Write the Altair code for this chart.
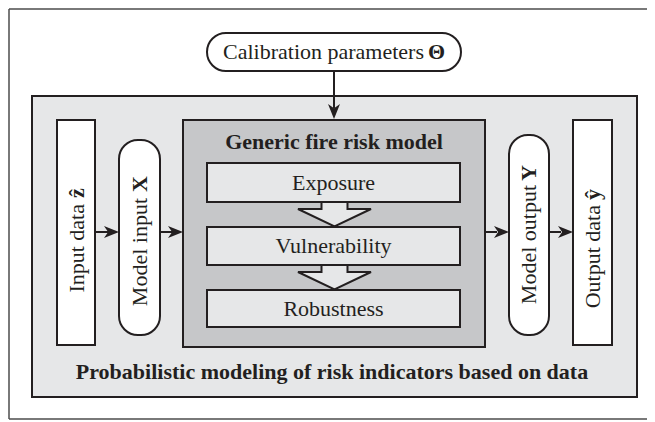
import altair as alt
import pandas as pd

# ---- canvas (picture-pixel coordinates; page margin is 8px) ----
W, H = 639, 414
X0, Y0 = 8, 8

INK = "#231f20"
FRAME = "#4d4d4d"
PANEL = "#e6e7e8"
MODEL = "#c6c7c9"
WHITE = "#ffffff"
FONT = "Liberation Serif"
FS = 22

# ---- outer frame (open on the right, as in the cropped original) ----
frame_x1 = [9, 9, 9]
frame_x2 = [700, 700, 9]
frame_y1 = [9, 419, 9]
frame_y2 = [9, 419, 419]

# ---- background boxes ----
back_names = ["panel", "model"]
back_x1 = [32, 183]
back_x2 = [637, 485]
back_y1 = [96, 120]
back_y2 = [397, 347]
back_fill = [PANEL, MODEL]

# ---- front boxes ----
box_names = ["Exposure", "Vulnerability", "Robustness", "input", "output"]
box_x1 = [207, 207, 207, 57, 573]
box_x2 = [460, 460, 460, 95, 612]
box_y1 = [163, 227, 290, 120, 120]
box_y2 = [202, 265, 327, 345, 345]
box_fill = [PANEL, PANEL, PANEL, WHITE, WHITE]

# ---- pills ----
pill_names = ["calibration", "model input", "model output"]
pill_x1 = [207, 119, 509]
pill_x2 = [461, 160, 549]
pill_y1 = [33, 140, 135]
pill_y2 = [71, 335, 335]

# ---- connector arrows ----
shaft_x1 = [334, 95, 160, 485, 549]
shaft_x2 = [334, 108, 172, 497, 561]
shaft_y1 = [71, 232, 232, 232, 232]
shaft_y2 = [108, 232, 232, 232, 232]
tip_x = [334, 119, 183, 509, 573]
tip_y = [119, 232, 232, 232, 232]
tip_dir = ["down", "right", "right", "right", "right"]
HEAD = 15

# ---- hollow block arrows ----
block_x = [334.5, 334.5]
block_y = [214, 277]
BLOCK = 73

# ---- texts ----
center_reg_text = ["Exposure", "Vulnerability", "Robustness"]
center_reg_x = [333.5, 333.5, 333.5]
center_reg_y = [183, 246, 309]

center_bold_text = ["Generic fire risk model",
                    "Probabilistic modeling of risk indicators based on data"]
center_bold_x = [334, 332]
center_bold_y = [142, 372]

calib_text, calib_x, calib_y = ["Calibration parameters"], [424], [52]
theta_text, theta_x, theta_y = ["\u0398"], [428], [52]

vert_reg_text = ["Input data", "Model input", "Model output", "Output data"]
vert_bold_text = ["\u1e91", "X", "Y", "\u0177"]
vert_x = [76.5, 139.5, 529, 592.5]
vert_reg_end = [204, 198, 185, 205]
vert_bold_start = [198, 192, 181, 200]

# ---------------------------------------------------------------
xs = alt.Scale(domain=[X0, X0 + W])
ys = alt.Scale(domain=[Y0 + H, Y0])


def X(f):
    return alt.X(f, type="quantitative", scale=xs, axis=None)


def Y(f):
    return alt.Y(f, type="quantitative", scale=ys, axis=None)


frame = alt.Chart(pd.DataFrame({"x1": frame_x1, "x2": frame_x2,
                                "y1": frame_y1, "y2": frame_y2})).mark_rule(
    color=FRAME, strokeWidth=1.5, clip=True
).encode(x=X("x1"), x2="x2", y=Y("y1"), y2="y2")

back = alt.Chart(pd.DataFrame({"name": back_names, "x1": back_x1, "x2": back_x2,
                               "y1": back_y1, "y2": back_y2, "fill": back_fill})).mark_rect(
    stroke=INK, strokeWidth=2
).encode(x=X("x1"), x2="x2", y=Y("y1"), y2="y2",
         fill=alt.Fill("fill:N", scale=None))

# hollow block arrow, defined in the [-1,1] symbol space (scaled by BLOCK/2)
r = BLOCK / 2.0
top, neck, tip, shaft = -12 / r, -5 / r, 12.5 / r, 13 / r
block_path = (f"M{-shaft:.3f},{top:.3f} L{shaft:.3f},{top:.3f} L{shaft:.3f},{neck:.3f} "
              f"L1,{neck:.3f} L0,{tip:.3f} L-1,{neck:.3f} L{-shaft:.3f},{neck:.3f} Z")
blocks = alt.Chart(pd.DataFrame({"x": block_x, "y": block_y})).mark_point(
    shape=block_path, size=BLOCK ** 2, filled=True, fill=PANEL, stroke=INK,
    strokeWidth=2, opacity=1
).encode(x=X("x"), y=Y("y"))

boxes = alt.Chart(pd.DataFrame({"name": box_names, "x1": box_x1, "x2": box_x2,
                                "y1": box_y1, "y2": box_y2, "fill": box_fill})).mark_rect(
    stroke=INK, strokeWidth=2
).encode(x=X("x1"), x2="x2", y=Y("y1"), y2="y2",
         fill=alt.Fill("fill:N", scale=None))

pills = alt.Chart(pd.DataFrame({"name": pill_names, "x1": pill_x1, "x2": pill_x2,
                                "y1": pill_y1, "y2": pill_y2})).mark_rect(
    fill=WHITE, stroke=INK, strokeWidth=2, cornerRadius=19
).encode(x=X("x1"), x2="x2", y=Y("y1"), y2="y2")

shafts = alt.Chart(pd.DataFrame({"x1": shaft_x1, "x2": shaft_x2,
                                 "y1": shaft_y1, "y2": shaft_y2})).mark_rule(
    color=INK, strokeWidth=2
).encode(x=X("x1"), x2="x2", y=Y("y1"), y2="y2")

right_head = "M1,0 L-1,-0.8 L-0.45,0 L-1,0.8 Z"
down_head = "M0,1 L-0.8,-1 L0,-0.45 L0.8,-1 Z"
hx, hy = [], []
for tx, ty, d in zip(tip_x, tip_y, tip_dir):
    if d == "down":
        hx.append(tx); hy.append(ty - HEAD / 2)
    else:
        hx.append(tx - HEAD / 2); hy.append(ty)
heads_df = pd.DataFrame({"x": hx, "y": hy, "dir": tip_dir})
heads_r = alt.Chart(heads_df[heads_df.dir == "right"]).mark_point(
    shape=right_head, size=HEAD ** 2, filled=True, fill=INK, strokeWidth=0, opacity=1
).encode(x=X("x"), y=Y("y"))
heads_d = alt.Chart(heads_df[heads_df.dir == "down"]).mark_point(
    shape=down_head, size=HEAD ** 2, filled=True, fill=INK, strokeWidth=0, opacity=1
).encode(x=X("x"), y=Y("y"))

tk = dict(font=FONT, fontSize=FS, color=INK, baseline="middle")

t_center_reg = alt.Chart(pd.DataFrame({"x": center_reg_x, "y": center_reg_y,
                                       "t": center_reg_text})).mark_text(
    align="center", **tk).encode(x=X("x"), y=Y("y"), text="t:N")
t_center_bold = alt.Chart(pd.DataFrame({"x": center_bold_x, "y": center_bold_y,
                                        "t": center_bold_text})).mark_text(
    align="center", fontWeight="bold", **tk).encode(x=X("x"), y=Y("y"), text="t:N")
t_calib = alt.Chart(pd.DataFrame({"x": calib_x, "y": calib_y, "t": calib_text})).mark_text(
    align="right", **tk).encode(x=X("x"), y=Y("y"), text="t:N")
t_theta = alt.Chart(pd.DataFrame({"x": theta_x, "y": theta_y, "t": theta_text})).mark_text(
    align="left", fontWeight="bold", **tk).encode(x=X("x"), y=Y("y"), text="t:N")
t_vert_reg = alt.Chart(pd.DataFrame({"x": vert_x, "y": vert_reg_end,
                                     "t": vert_reg_text})).mark_text(
    align="right", angle=270, **tk).encode(x=X("x"), y=Y("y"), text="t:N")
t_vert_bold = alt.Chart(pd.DataFrame({"x": vert_x, "y": vert_bold_start,
                                      "t": vert_bold_text})).mark_text(
    align="left", angle=270, fontWeight="bold", **tk).encode(x=X("x"), y=Y("y"), text="t:N")

chart = alt.layer(
    frame, back, blocks, boxes, pills, shafts, heads_r, heads_d,
    t_center_reg, t_center_bold, t_calib, t_theta, t_vert_reg, t_vert_bold
).properties(
    width=W, height=H, padding=0,
    autosize=alt.AutoSizeParams(type="fit", contains="padding")
).configure_view(stroke=None)

chart.save("out.html", embed_options={"renderer": "svg", "actions": False})
